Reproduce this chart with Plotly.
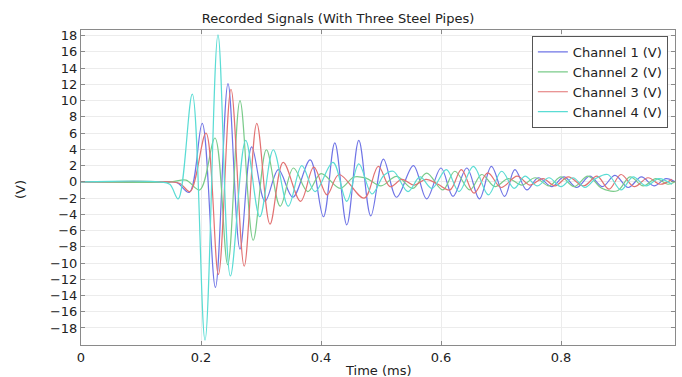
import plotly.graph_objects as go

# Extrema (time in ms, voltage in V)
ch1_t = [0, 0.14, 0.16, 0.1806, 0.202, 0.224, 0.245, 0.265, 0.2845, 0.3067, 0.329, 0.353, 0.382,
         0.404, 0.423, 0.443, 0.463, 0.483, 0.504, 0.526, 0.554, 0.576, 0.600, 0.620, 0.643, 0.664,
         0.684, 0.706, 0.723, 0.743, 0.762, 0.785, 0.805, 0.826, 0.848, 0.869, 0.89, 0.912, 0.934,
         0.955, 0.975, 0.99]
ch1_v = [0, 0, -0.1, -1.3, 7.2, -13.0, 12.1, -8.3, 4.3, -2.4, 1.5, -1.9, 2.7,
         -4.3, 4.8, -5.3, 5.1, -4.2, 2.8, -1.9, 2.0, -2.1, 1.7, -1.8, 1.7, -2.1,
         1.9, -1.8, 1.5, -1.0, 0.5, -0.6, 0.6, -0.7, 0.7, -0.6, 0.8, -0.7, 0.6,
         -0.5, 0.4, 0.0]

ch2_t = [0, 0.15, 0.175, 0.198, 0.2233, 0.2445, 0.265, 0.287, 0.309, 0.332, 0.354, 0.378, 0.40,
         0.432, 0.455, 0.475, 0.50, 0.526, 0.553, 0.576, 0.603, 0.623, 0.648, 0.668, 0.69, 0.712,
         0.735, 0.757, 0.78, 0.80, 0.822, 0.845, 0.868, 0.894, 0.915, 0.937, 0.958, 0.978, 0.99]
ch2_v = [0, 0, 0.2, -1.0, 5.4, -10.2, 10.0, -7.2, 3.95, -3.0, 1.7, -1.2, 1.0,
         -0.8, 0.6, 0.45, -0.5, 0.66, -0.8, 1.07, -1.0, 1.3, -1.0, 0.9, -0.6, 0.4,
         -0.4, 0.5, -0.5, 0.6, -0.6, 0.7, -0.8, -1.1, 0.6, -0.5, 0.4, -0.3, 0.0]

ch3_t = [0, 0.145, 0.165, 0.1817, 0.2083, 0.229, 0.25, 0.272, 0.293, 0.315, 0.337, 0.366, 0.388,
         0.41, 0.43, 0.472, 0.4955, 0.515, 0.535, 0.555, 0.575, 0.595, 0.615, 0.634, 0.655, 0.678,
         0.70, 0.727, 0.748, 0.77, 0.79, 0.812, 0.838, 0.86, 0.88, 0.9, 0.922, 0.945, 0.965, 0.985]
ch3_v = [0, 0, -0.2, -1.2, 6.0, -11.4, 11.4, -10.4, 7.2, -5.2, 2.4, -2.4, 1.8,
         -1.6, 0.9, -2.0, 1.9, -0.6, 0.3, -0.4, 0.3, -0.3, -1.0, 1.5, -1.4, 1.1,
         -0.7, 0.7, -0.4, 0.4, -0.5, 0.6, -0.5, 0.7, -0.9, 0.9, -0.6, 0.5, -0.3, 0.3]

ch4_t = [0, 0.13, 0.148, 0.162, 0.1855, 0.2067, 0.2283, 0.249, 0.2745, 0.298, 0.3205, 0.3455, 0.368,
         0.39, 0.42, 0.443, 0.463, 0.485, 0.505, 0.5205, 0.545, 0.565, 0.585, 0.609, 0.63, 0.654,
         0.679, 0.701, 0.722, 0.74, 0.76, 0.78, 0.80, 0.82, 0.84, 0.858, 0.878, 0.9, 0.92, 0.942,
         0.963, 0.985]
ch4_v = [0, 0, -0.3, -2.1, 10.8, -19.5, 18.1, -11.6, 5.1, -4.3, 3.95, -3.0, 2.0,
         -1.2, 2.4, -2.4, 2.2, -1.5, 0.8, 1.3, -1.2, 0.6, -0.8, 1.5, -1.2, 1.9,
         -1.6, 1.3, -0.8, 0.7, -0.5, 0.5, -0.6, 0.5, -0.7, 0.4, 0.9, -1.0, 0.6, -0.5,
         0.4, -0.3]

names = ["Channel 1 (V)", "Channel 2 (V)", "Channel 3 (V)", "Channel 4 (V)"]
colors = ["#6f74e6", "#7acb8a", "#e27272", "#5adcd4"]
series = [(ch1_t, ch1_v), (ch2_t, ch2_v), (ch3_t, ch3_v), (ch4_t, ch4_v)]

x_ticks = [0, 0.2, 0.4, 0.6, 0.8]
x_tick_text = ["0", "0.2", "0.4", "0.6", "0.8"]
y_ticks = list(range(-18, 19, 2))

fig = go.Figure()
for (t, v), name, c in zip(series, names, colors):
    fig.add_trace(go.Scatter(x=t, y=v, mode="lines", name=name,
                             line=dict(color=c, width=1.2, shape="spline", smoothing=1.0)))

font = "DejaVu Sans, Verdana, sans-serif"
axis_common = dict(showline=True, linecolor="#8a8a8a", linewidth=1, mirror="ticks",
                   ticks="inside", ticklen=4, tickcolor="#8a8a8a",
                   showgrid=True, gridcolor="#ececec", zeroline=False,
                   tickfont=dict(family=font, size=13, color="#222"))

fig.update_layout(
    width=682, height=377,
    paper_bgcolor="white", plot_bgcolor="white",
    margin=dict(l=81, r=7, t=30, b=32),
    font=dict(family=font, size=13, color="#222"),
    title=dict(text="Recorded Signals (With Three Steel Pipes)", x=338 / 682, xref="container",
               xanchor="center", y=1 - 18 / 377, yref="container", yanchor="middle",
               font=dict(family=font, size=13, color="#222")),
    xaxis=dict(range=[0, 0.99], tickvals=x_ticks, ticktext=x_tick_text, **axis_common),
    yaxis=dict(range=[-20.1, 18.7], tickvals=y_ticks, **axis_common),
    showlegend=True,
    legend=dict(x=0.988, y=0.981, xanchor="right", yanchor="top",
                bgcolor="white", bordercolor="#555", borderwidth=1,
                font=dict(family=font, size=13, color="#222"),
                itemwidth=30, tracegroupgap=0),
    annotations=[
        dict(text="Time (ms)", xref="paper", yref="paper", x=0.5, y=-(370 - 345) / 315,
             xanchor="center", yanchor="middle", showarrow=False,
             font=dict(family=font, size=13, color="#222")),
        dict(text="(V)", xref="paper", yref="paper", x=-(81 - 20) / 594, y=(345 - 190) / 315,
             xanchor="center", yanchor="middle", textangle=-90, showarrow=False,
             font=dict(family=font, size=13, color="#222")),
    ],
)

fig.write_html("out.html")
